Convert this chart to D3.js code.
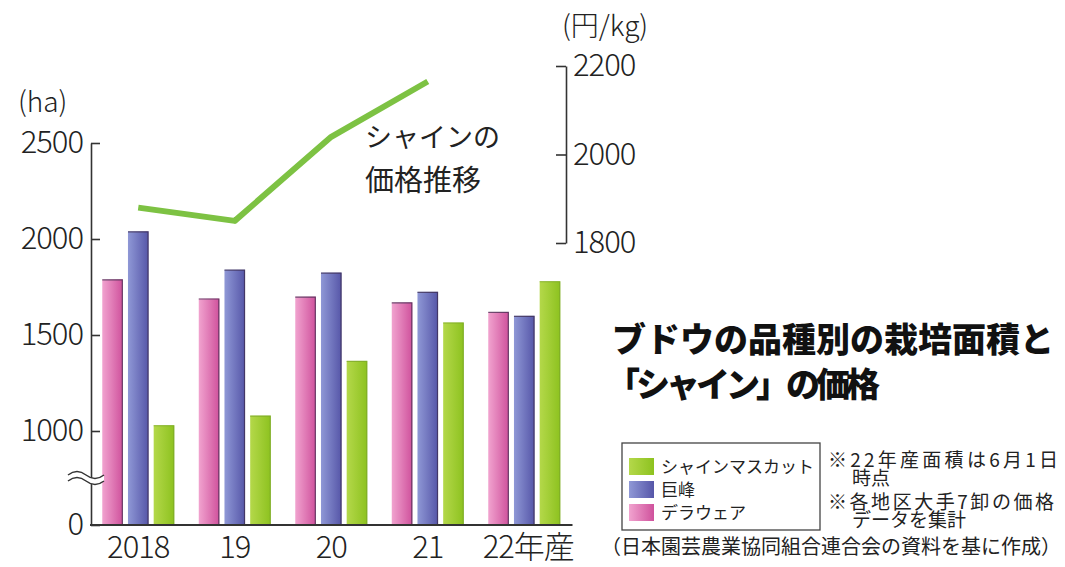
<!DOCTYPE html>
<html>
<head>
<meta charset="utf-8">
<script src="https://cdn.jsdelivr.net/npm/d3@7"></script>
<style>
  body { margin: 0; background: #fff; }
  text { font-family: "Noto Sans CJK JP", "Noto Sans", sans-serif; }
</style>
</head>
<body>
<div id="chart"></div>
<script>
// data
var years = ["2018", "19", "20", "21", "22年産"];
var seriesNames = ["デラウェア", "巨峰", "シャインマスカット"];
var delaware = [1790, 1690, 1700, 1670, 1620];
var kyoho = [2040, 1840, 1825, 1725, 1600];
var shine = [1030, 1080, 1365, 1565, 1780];
var priceYears = ["2018", "19", "20", "21"];
var shinePrice = [1880, 1850, 2040, 2165];
var areaTicks = [0, 1000, 1500, 2000, 2500];
var priceTicks = [1800, 2000, 2200];

var width = 1065, height = 567;
var numFont = "'Noto Sans CJK JP', sans-serif";

var svg = d3.select("#chart")
    .append("svg")
    .attr("width", width)
    .attr("height", height);

svg.append("rect").attr("width", width).attr("height", height).attr("fill", "#fff");

// gradients for the bars
var colors = {
    "デラウェア": ["#f1a3cf", "#cf519c"],
    "巨峰": ["#8f98d6", "#5656a8"],
    "シャインマスカット": ["#b4d84a", "#8dc21f"]
};
var defs = svg.append("defs");
seriesNames.forEach(function (s, i) {
    var g = defs.append("linearGradient").attr("id", "grad" + i)
        .attr("x1", "0%").attr("x2", "100%").attr("y1", "0%").attr("y2", "0%");
    g.append("stop").attr("offset", "0%").attr("stop-color", colors[s][0]);
    g.append("stop").attr("offset", "100%").attr("stop-color", colors[s][1]);
});

// scales (left axis is broken between 0 and 1000)
var y = d3.scaleLinear().domain([0, 1000, 2500]).range([525, 431, 143]);
var yR = d3.scaleLinear().domain([1800, 2200]).range([243, 66]);
var x0 = d3.scaleBand().domain(years).range([90, 572.5])
    .paddingInner(0.254).paddingOuter(0.127);
var x1 = d3.scaleBand().domain(seriesNames).range([0, x0.bandwidth()]).paddingInner(0.2);

var rows = years.map(function (yr, i) {
    return { year: yr, values: [delaware[i], kyoho[i], shine[i]] };
});

// bars
var groups = svg.selectAll(".grp")
    .data(rows)
    .enter()
    .append("g")
    .attr("transform", function (d) { return "translate(" + x0(d.year) + ",0)"; });

groups.selectAll("rect")
    .data(function (d) { return d.values.map(function (v, i) { return { s: seriesNames[i], i: i, v: v }; }); })
    .enter()
    .append("rect")
    .attr("x", function (d) { return x1(d.s); })
    .attr("y", function (d) { return y(d.v); })
    .attr("width", x1.bandwidth())
    .attr("height", function (d) { return y(0) - y(d.v); })
    .attr("fill", function (d) { return "url(#grad" + d.i + ")"; });

// dark top and right edge of each bar
groups.selectAll("path.edge")
    .data(function (d) { return d.values.map(function (v, i) { return { s: seriesNames[i], i: i, v: v }; }); })
    .enter()
    .append("path")
    .attr("fill", "none")
    .attr("stroke", function (d) { return d.i == 2 ? "#7aa52a" : "#3a2a4a"; })
    .attr("stroke-opacity", 0.7)
    .attr("stroke-width", 1.2)
    .attr("d", function (d) {
        var xl = x1(d.s), xr = x1(d.s) + x1.bandwidth(), yt = y(d.v);
        return "M" + xl + "," + (yt + 0.5) + "H" + (xr - 0.5) + "V" + y(0);
    });

// left axis
var axL = svg.append("g")
    .attr("transform", "translate(91,0)")
    .call(d3.axisLeft(y).tickValues(areaTicks).tickFormat(d3.format("d"))
        .tickSize(-9).tickSizeOuter(0).tickPadding(8));
axL.selectAll("text").attr("font-size", 31).attr("font-weight", 300).attr("fill", "#222")
    .attr("font-family", numFont).attr("letter-spacing", -1);
axL.selectAll("line, path").attr("stroke", "#333").attr("stroke-width", 1.6);

// x axis
var axB = svg.append("g")
    .attr("transform", "translate(0,525)")
    .call(d3.axisBottom(x0).tickSize(0).tickSizeOuter(0).tickPadding(11));
axB.select(".domain").attr("d", "M90,0H572.5").attr("stroke", "#333").attr("stroke-width", 2);
axB.selectAll("text").attr("font-size", 31).attr("font-weight", 300).attr("fill", "#222")
    .attr("font-family", numFont).attr("letter-spacing", -1);
axB.selectAll(".tick").filter(function (d) { return d == "22年産"; }).select("text")
    .attr("dx", 4);

// axis break mark
var yb = y(500);
var wave = function (dy) { return "M68," + (yb + dy) + "q9,-7 18,0 t18,0"; };
svg.append("path")
    .attr("d", "M68," + (yb - 3) + "q9,-7 18,0 t18,0 v6 q-9,7 -18,0 t-18,0 z")
    .attr("fill", "#fff");
svg.append("path").attr("d", wave(-3)).attr("fill", "none").attr("stroke", "#333").attr("stroke-width", 1.5);
svg.append("path").attr("d", wave(3)).attr("fill", "none").attr("stroke", "#333").attr("stroke-width", 1.5);

// right axis (price)
var axR = svg.append("g")
    .attr("transform", "translate(566,0)")
    .call(d3.axisRight(yR).tickValues(priceTicks).tickFormat(d3.format("d"))
        .tickSize(-10).tickSizeOuter(0).tickPadding(7));
axR.selectAll("text").attr("font-size", 31).attr("font-weight", 300).attr("fill", "#222")
    .attr("font-family", numFont).attr("letter-spacing", -1);
axR.selectAll("line, path").attr("stroke", "#333").attr("stroke-width", 1.6);

// price line
svg.append("path")
    .datum(shinePrice)
    .attr("fill", "none")
    .attr("stroke", "#7dc243")
    .attr("stroke-width", 6)
    .attr("stroke-linejoin", "round")
    .attr("d", d3.line()
        .x(function (d, i) { return x0(priceYears[i]) + x0.bandwidth() / 2; })
        .y(function (d) { return yR(d); }));

// unit labels
svg.append("text").attr("x", 18).attr("y", 112).attr("font-size", 28).attr("font-weight", 300)
    .attr("fill", "#222").text("(ha)");
svg.append("text").attr("x", 562).attr("y", 36).attr("font-size", 28).attr("font-weight", 300)
    .attr("fill", "#222").text("(円/kg)");

// line annotation
svg.append("text").attr("x", 365).attr("y", 147).attr("font-size", 27).attr("fill", "#222").text("シャインの");
svg.append("text").attr("x", 365).attr("y", 191).attr("font-size", 29).attr("fill", "#222").text("価格推移");

// title
svg.append("text").attr("x", 612).attr("y", 352).attr("font-size", 34).attr("font-weight", 900)
    .attr("fill", "#111").text("ブドウの品種別の栽培面積と");
svg.append("text").attr("x", 606).attr("y", 397).attr("font-size", 34).attr("font-weight", 900)
    .attr("fill", "#111").attr("textLength", 274).attr("lengthAdjust", "spacing")
    .text("「シャイン」の価格");

// legend
svg.append("rect").attr("x", 622).attr("y", 443).attr("width", 198).attr("height", 87)
    .attr("fill", "none").attr("stroke", "#444").attr("stroke-width", 1.3);
var legendOrder = [2, 1, 0];
legendOrder.forEach(function (si, k) {
    var ly = 458 + k * 23;
    svg.append("rect").attr("x", 629).attr("y", ly).attr("width", 25).attr("height", 17)
        .attr("fill", "url(#grad" + si + ")");
    svg.append("text").attr("x", 661).attr("y", ly + 15).attr("font-size", 17)
        .attr("fill", "#222").text(seriesNames[si]);
});

// notes
var notes = [
    { x: 828, y: 467, t: "※22年産面積は6月1日", len: 230 },
    { x: 852, y: 485, t: "時点", len: 0 },
    { x: 828, y: 509, t: "※各地区大手7卸の価格", len: 226 },
    { x: 852, y: 527, t: "データを集計", len: 0 }
];
notes.forEach(function (n) {
    var t = svg.append("text").attr("x", n.x).attr("y", n.y).attr("font-size", 19)
        .attr("fill", "#222").text(n.t);
    if (n.len) t.attr("textLength", n.len).attr("lengthAdjust", "spacing");
});
svg.append("text").attr("x", 601).attr("y", 554).attr("font-size", 20)
    .attr("fill", "#222").attr("textLength", 460).text("（日本園芸農業協同組合連合会の資料を基に作成）");
</script>
</body>
</html>
